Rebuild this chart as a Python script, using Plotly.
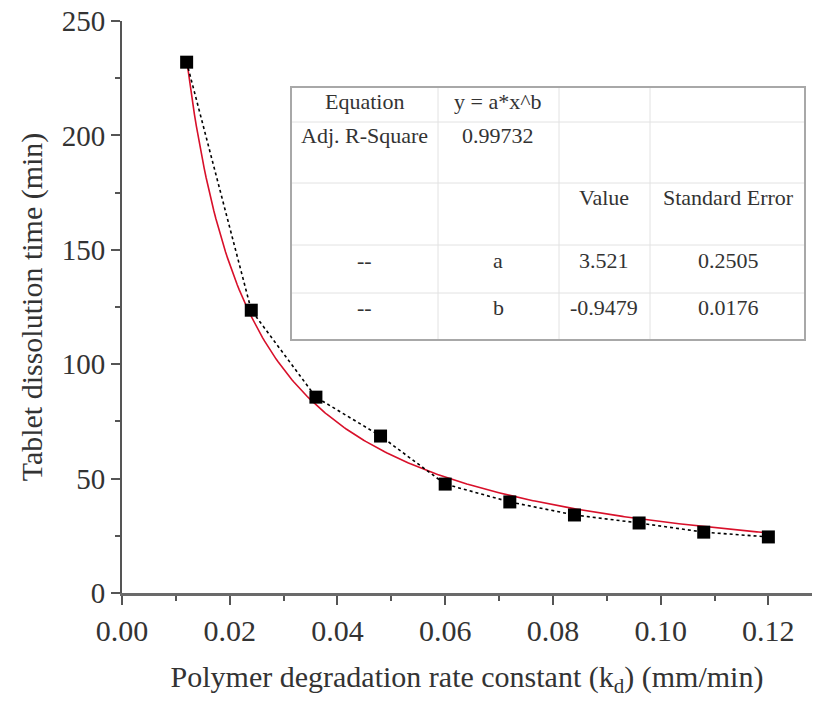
import numpy as np
import plotly.graph_objects as go

# Measured dissolution times versus degradation rate constant
k_d = [0.012, 0.024, 0.036, 0.048, 0.060, 0.072, 0.084, 0.096, 0.108, 0.120]
t_diss = [232.0, 123.6, 85.6, 68.6, 47.6, 39.8, 34.1, 30.6, 26.6, 24.5]

# Power-law fit parameters y = a*x^b
fit_a = 3.521
fit_b = -0.9479

# Fit report table
col_header = ["", "", "Value", "Standard Error"]
row_equation = ["Equation", "y = a*x^b"]
row_r2 = ["Adj. R-Square", "0.99732"]
row_a = ["--", "a", "3.521", "0.2505"]
row_b = ["--", "b", "-0.9479", "0.0176"]

FONT = "Liberation Serif, Times New Roman, serif"

# Plot area in pixels (for placing the inset table)
W, H = 814, 702
ML, MR, MT, MB = 122, 2, 21, 109
PW, PH = W - ML - MR, H - MT - MB


def px(x):
    return (x - ML) / PW


def py(y):
    return (H - MB - y) / PH


x_fit = np.linspace(min(k_d), max(k_d), 300)
y_fit = fit_a * x_fit ** fit_b

fig = go.Figure()
fig.add_trace(go.Scatter(
    x=x_fit, y=y_fit, mode="lines",
    line=dict(color="#d8102a", width=1.6),
    hoverinfo="skip", showlegend=False,
))
fig.add_trace(go.Scatter(
    x=k_d, y=t_diss, mode="lines+markers",
    line=dict(color="black", width=1.6, dash="dot"),
    marker=dict(symbol="square", size=13, color="black"),
    showlegend=False,
))

# Inset table: grid lines
col_edges = [291, 438, 559, 650, 805]
row_edges = [87, 122, 183, 245, 293, 340]
shapes = []
for xe in col_edges[1:-1]:
    shapes.append(dict(type="line", xref="paper", yref="paper",
                       x0=px(xe), x1=px(xe), y0=py(row_edges[0]), y1=py(row_edges[-1]),
                       line=dict(color="#e2e2e2", width=1)))
for ye in row_edges[1:-1]:
    shapes.append(dict(type="line", xref="paper", yref="paper",
                       x0=px(col_edges[0]), x1=px(col_edges[-1]), y0=py(ye), y1=py(ye),
                       line=dict(color="#e2e2e2", width=1)))
shapes.append(dict(type="rect", xref="paper", yref="paper",
                   x0=px(col_edges[0]), x1=px(col_edges[-1]),
                   y0=py(row_edges[-1]), y1=py(row_edges[0]),
                   line=dict(color="#a8a8a8", width=2)))

# Inset table: cell text
col_centers = [364, 498, 604, 728]
row_text_y = [102, 135, 197, 260, 307]
rows = [row_equation, row_r2, col_header, row_a, row_b]
annotations = []
for ry, row in zip(row_text_y, rows):
    for cx, txt in zip(col_centers, row):
        if not txt:
            continue
        annotations.append(dict(
            x=px(cx), y=py(ry), xref="paper", yref="paper",
            text=txt, showarrow=False, xanchor="center", yanchor="middle",
            font=dict(family=FONT, size=22, color="#333333"),
        ))

fig.update_layout(
    width=W, height=H,
    margin=dict(l=ML, r=MR, t=MT, b=MB),
    paper_bgcolor="white", plot_bgcolor="white",
    font=dict(family=FONT, color="#333333"),
    shapes=shapes, annotations=annotations,
    xaxis=dict(
        range=[0, 0.1281], tickvals=[0, 0.02, 0.04, 0.06, 0.08, 0.10, 0.12],
        tickformat=".2f", ticks="outside", ticklen=9, tickwidth=2, tickcolor="#555",
        showline=True, linecolor="#6a6a6a", linewidth=3, showgrid=False, zeroline=False,
        tickfont=dict(size=30, family=FONT, color="#333"),
        minor=dict(tickvals=[0.01, 0.03, 0.05, 0.07, 0.09, 0.11], ticks="outside",
                   ticklen=5, tickwidth=2, tickcolor="#555"),
        title=dict(text="Polymer degradation rate constant (k<sub>d</sub>) (mm/min)",
                   font=dict(size=30, family=FONT, color="#333"), standoff=20),
    ),
    yaxis=dict(
        range=[0, 250], tickvals=[0, 50, 100, 150, 200, 250],
        ticks="outside", ticklen=9, tickwidth=2, tickcolor="#555",
        showline=True, linecolor="#555", linewidth=2, showgrid=False, zeroline=False,
        tickfont=dict(size=29, family=FONT, color="#333"),
        minor=dict(tickvals=[25, 75, 125, 175, 225], ticks="outside",
                   ticklen=5, tickwidth=2, tickcolor="#555"),
        title=dict(text="Tablet dissolution time (min)",
                   font=dict(size=30, family=FONT, color="#333"), standoff=10),
    ),
)

fig.write_html("out.html")
